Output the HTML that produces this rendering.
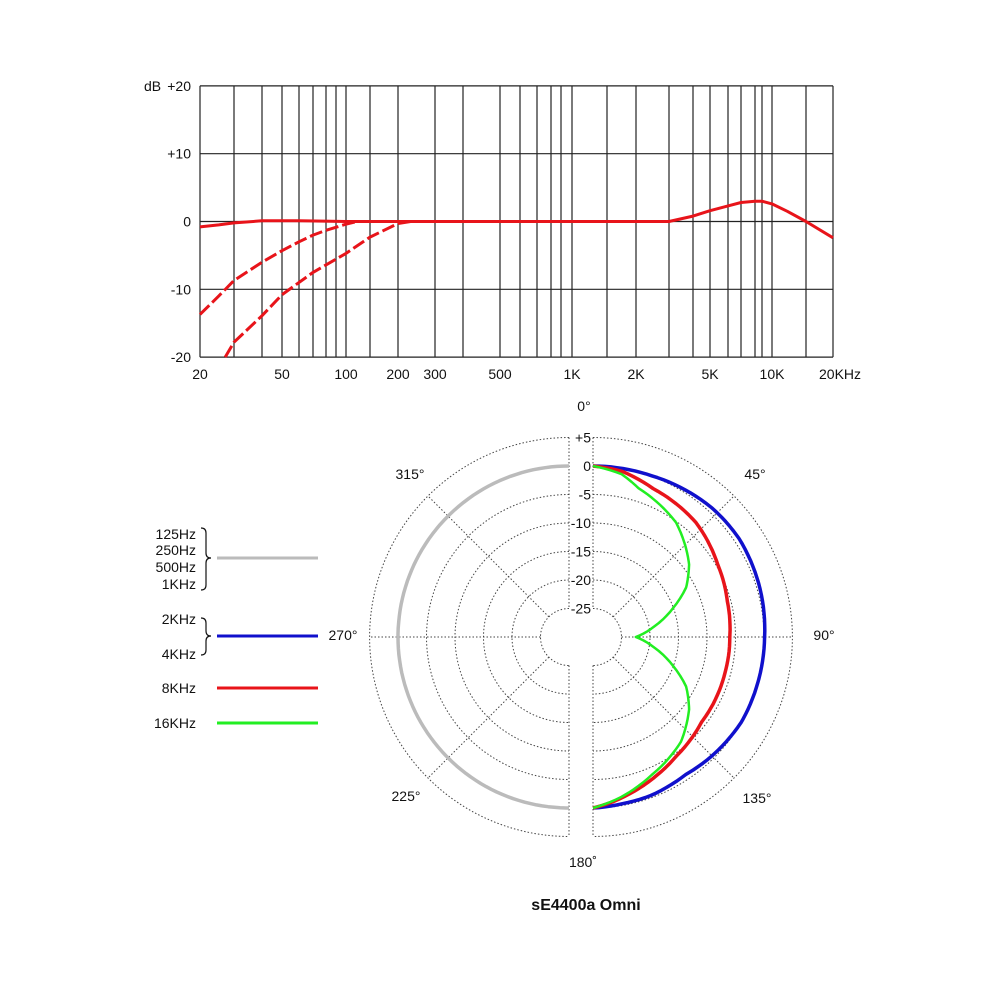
<!DOCTYPE html>
<html><head><meta charset="utf-8"><style>
body{margin:0;background:#fff;width:1000px;height:1000px;overflow:hidden}
svg{display:block;font-family:"Liberation Sans",sans-serif}
</style></head><body>
<svg id="s" width="1000" height="1000" viewBox="0 0 1000 1000">
<g id="freq"></g>
<g id="polar"></g>
<text x="586" y="910" text-anchor="middle" font-size="16" font-weight="bold" fill="#111">sE4400a Omni</text>
</svg>
<script>
// ---- Frequency response data ----
const gridFreqs=[20,30,40,50,60,70,80,90,100,150,200,300,400,500,600,700,800,900,1000,1500,2000,3000,4000,5000,6000,7000,8000,9000,10000,15000,20000];
const xTickLabels=["20","50","100","200","300","500","1K","2K","5K","10K","20KHz"];
const xTickFreqs=[20,50,100,200,300,500,1000,2000,5000,10000,20000];
const yTickValues=[20,10,0,-10,-20];
const yTickLabels=["+20","+10","0","-10","-20"];
const flatFreqs=[20,25,30,40,60,100,1000,3000,4000,5000,6000,7000,8000,9000,10000,12000,15000,20000];
const flatDb=[-0.8,-0.5,-0.2,0.1,0.1,0,0,0,0.8,1.6,2.3,2.8,3,3,2.6,1.5,0,-2.4];
const cut1Freqs=[20,25,30,40,50,60,70,80,100,120,150];
const cut1Db=[-13.7,-11,-8.7,-6,-4.3,-3,-2,-1.3,-0.4,0,0];
const cut2Freqs=[27,30,40,50,70,100,150,200,230];
const cut2Db=[-20,-17.8,-13.9,-10.8,-7.5,-4.7,-2.3,-0.3,0];
// axis calibration (frequency -> px anchors)
const calF=[20,30,40,50,60,70,80,90,100,150,200,300,400,500,600,700,800,900,1000,1500,2000,3000,4000,5000,6000,7000,8000,9000,10000,15000,20000];
const calX=[200,234,262,282,299,313,326,336,346,370,398,435,463,500,520,537,551,561,572,607,636,669,693,710,728,741,755,762,772,806,833];
function fx(f){for(let i=0;i<calF.length-1;i++){if(f<=calF[i+1]){const t=(Math.log(f)-Math.log(calF[i]))/(Math.log(calF[i+1])-Math.log(calF[i]));return calX[i]+t*(calX[i+1]-calX[i]);}}return calX[calX.length-1];}
function fy(db){return 221.5-db*6.78;}
const NS="http://www.w3.org/2000/svg";
function mk(tag,attrs,parent){const e=document.createElementNS(NS,tag);for(const k in attrs)e.setAttribute(k,attrs[k]);parent.appendChild(e);return e;}
const F=document.getElementById('freq');
gridFreqs.forEach(f=>{const l=mk('line',{x1:fx(f),x2:fx(f),y1:fy(20),y2:fy(-20),stroke:'#222','stroke-width':1.2},F);

});
yTickValues.forEach((v,i)=>{const l=mk('line',{x1:200,x2:833,y1:fy(v),y2:fy(v),stroke:'#222','stroke-width':1.2},F);


const t=mk('text',{x:191,y:fy(v)+5,'text-anchor':'end','font-size':14,fill:'#111'},F);t.textContent=yTickLabels[i];

});
const dbt=mk('text',{x:144,y:fy(20)+5,'font-size':14,fill:'#111'},F);dbt.textContent='dB';


xTickFreqs.forEach((f,i)=>{const t=mk('text',{x:fx(f),y:379,'text-anchor':i===xTickFreqs.length-1?'start':'middle','font-size':14,fill:'#111'},F);
if(i===xTickFreqs.length-1)t.setAttribute('x',fx(f)-14);
t.textContent=xTickLabels[i];

});
function fpath(fs,ds){return fs.map((f,i)=>(i?'L':'M')+fx(f).toFixed(1)+','+fy(ds[i]).toFixed(1)).join('');}
const c1=mk('path',{d:fpath(cut1Freqs,cut1Db),fill:'none',stroke:'#e8141a','stroke-width':3,'stroke-dasharray':'13 4','stroke-linejoin':'round'},F);


const c2=mk('path',{d:fpath(cut2Freqs,cut2Db),fill:'none',stroke:'#e8141a','stroke-width':3,'stroke-dasharray':'13 4','stroke-linejoin':'round'},F);


const c0=mk('path',{d:fpath(flatFreqs,flatDb),fill:'none',stroke:'#e8141a','stroke-width':3,'stroke-linejoin':'round'},F);



// ---- Polar data ----
const ringDb=[5,0,-5,-10,-15,-20,-25];
const ringLabels=["+5","0","-5","-10","-15","-20","-25"];
const grayAngles=[0,45,90,135,180];
const grayDb=[0,0,0,0,0];
const blueAngles=[0,8,20,30,43,56,74,90,105,120,135,146,160,170,180];
const blueDb=[0,0,0.1,0.4,0.8,0.9,0.5,0.1,0,0,-0.5,-0.9,-0.4,-0.3,0];
const redAngles=[0,10,22,42,60,75,90,105,128,145,155,165,173,180];
const redDb=[0,-0.5,-1.9,-3,-4.7,-5.6,-6,-6,-5.8,-4.5,-3.3,-2,-0.9,0];
const greenAngles=[0,10,17,36,53,62,70,80,90,100,110,118,127,140,157,170,180];
const greenDb=[0,-1,-2.7,-5.2,-8.9,-11.5,-15,-19,-22.5,-19,-15,-11.5,-8.9,-6,-3.7,-1.5,0];
const CY=637,CXL=569,CXR=593;
function pr(db){return 171+db*5.7;}
function px(cx,ang,db,side){return cx+side*pr(db)*Math.sin(ang*Math.PI/180);}
function py(ang,db){return CY-pr(db)*Math.cos(ang*Math.PI/180);}
const P=document.getElementById('polar');
ringDb.forEach(d=>{const r=pr(d);
[[CXL,0],[CXR,1]].forEach(([cx,sw])=>{const a=mk('path',{d:`M${cx},${CY-r}A${r},${r} 0 0 ${sw} ${cx},${CY+r}`,fill:'none',stroke:'#444','stroke-width':1,'stroke-dasharray':'1.5 2'},P);

});});
[45,90,135].forEach(ang=>{[[CXL,-1],[CXR,1]].forEach(([cx,s])=>{const l=mk('line',{x1:px(cx,ang,-25,s),y1:py(ang,-25),x2:px(cx,ang,5,s),y2:py(ang,5),stroke:'#444','stroke-width':1,'stroke-dasharray':'1.5 2'},P);

});});
[CXL,CXR].forEach(x=>{const l=mk('line',{x1:x,x2:x,y1:CY-pr(5),y2:CY-pr(-25),stroke:'#444','stroke-width':1,'stroke-dasharray':'1.5 2'},P);


const l2=mk('line',{x1:x,x2:x,y1:CY+pr(-25),y2:CY+pr(5),stroke:'#444','stroke-width':1,'stroke-dasharray':'1.5 2'},P);

});
ringDb.forEach((d,i)=>{const y=CY-pr(d);mk('rect',{x:CXL+2,y:y-8,width:CXR-CXL-4,height:15,fill:'#fff'},P);
const t=mk('text',{x:591,y:y+5,'text-anchor':'end','font-size':14,fill:'#111'},P);t.textContent=ringLabels[i];

});
const angLabels=[["0°",584,411],["45°",755,479],["90°",824,640],["135°",757,803],["180˚",583,867],["225°",406,801],["270°",343,640],["315°",410,479]];
angLabels.forEach(a=>{const t=mk('text',{x:a[1],y:a[2],'text-anchor':'middle','font-size':14,fill:'#111'},P);t.textContent=a[0];

});
function ppath(cx,s,angs,dbs){return angs.map((a,i)=>(i?'L':'M')+px(cx,a,dbs[i],s).toFixed(1)+','+py(a,dbs[i]).toFixed(1)).join('');}
function densify(angs,dbs){const A=[],D=[];for(let i=0;i<angs.length-1;i++){for(let a=angs[i];a<angs[i+1];a+=2){A.push(a);D.push(dbs[i]+(dbs[i+1]-dbs[i])*(a-angs[i])/(angs[i+1]-angs[i]));}}A.push(angs[angs.length-1]);D.push(dbs[dbs.length-1]);return [A,D];}
const series=[[CXL,-1,grayAngles,grayDb,'#bbbbbb','gray-low-mid-curve',3.5],[CXR,1,blueAngles,blueDb,'#1010cc','blue-2k-4k-curve',3.5],[CXR,1,redAngles,redDb,'#e8141a','red-8k-curve',3.5],[CXR,1,greenAngles,greenDb,'#22ee22','green-16k-curve',2.5]];
series.forEach(s=>{const [A,D]=densify(s[2],s[3]);const p=mk('path',{d:ppath(s[0],s[1],A,D),fill:'none',stroke:s[4],'stroke-width':s[6],'stroke-linejoin':'round'},P);

});
// legend
const legend=[[558,'#bbbbbb',[["125Hz",539],["250Hz",555],["500Hz",572],["1KHz",589]],[528,590]],[636,'#1010cc',[["2KHz",624],["4KHz",659]],[618,655]],[688,'#e8141a',[["8KHz",693]],null],[723,'#22ee22',[["16KHz",728]],null]];
legend.forEach(L=>{const g=mk('g',{},P);


mk('line',{x1:217,x2:318,y1:L[0],y2:L[0],stroke:L[1],'stroke-width':3},g);
L[2].forEach(t=>{const e=mk('text',{x:196,y:t[1],'text-anchor':'end','font-size':14,fill:'#111'},g);e.textContent=t[0];});
if(L[3]){const [a,b]=L[3],m=L[0];mk('path',{d:`M201,${a}Q206,${a} 206,${a+5}L206,${m-5}Q206,${m} 211,${m}Q206,${m} 206,${m+5}L206,${b-5}Q206,${b} 201,${b}`,fill:'none',stroke:'#111','stroke-width':1.2},g);}
});
</script>
</body></html>
